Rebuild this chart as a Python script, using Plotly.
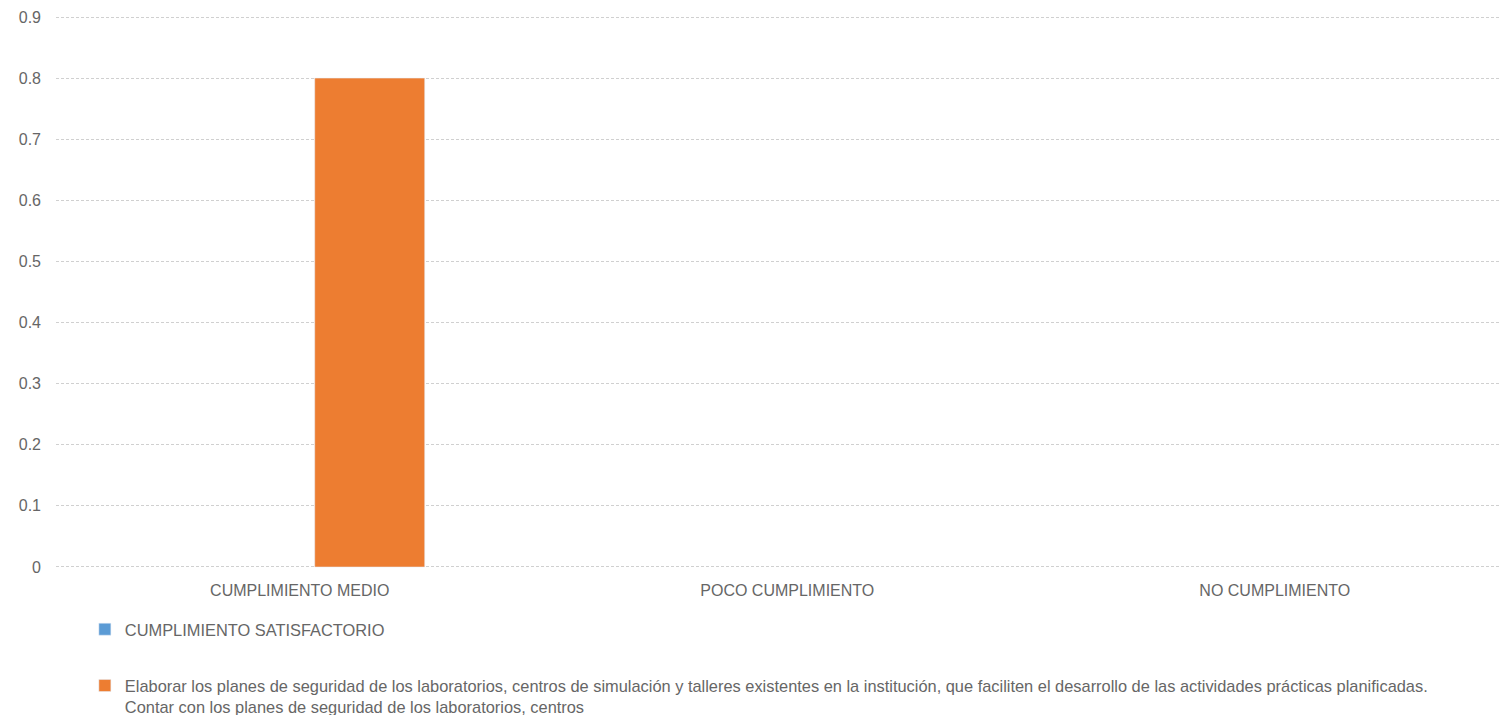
import plotly.graph_objects as go

categories = ["CUMPLIMIENTO MEDIO", "POCO CUMPLIMIENTO", "NO CUMPLIMIENTO"]
series1_name = "CUMPLIMIENTO SATISFACTORIO"
series1_values = [None, None, None]
series2_name = ("Elaborar los planes de seguridad de los laboratorios, centros de simulación y talleres existentes "
                "en la institución, que faciliten el desarrollo de las actividades prácticas planificadas.<br>"
                "Contar con los planes de seguridad de los laboratorios, centros")
series2_values = [0.8, None, None]
y_ticks = [0, 0.1, 0.2, 0.3, 0.4, 0.5, 0.6, 0.7, 0.8, 0.9]
y_tick_labels = ["0", "0.1", "0.2", "0.3", "0.4", "0.5", "0.6", "0.7", "0.8", "0.9"]

FONT = "Liberation Sans"
GRAY = "#666666"
FS = 16

fig = go.Figure()
fig.add_trace(go.Bar(x=categories, y=series1_values, name=series1_name,
                     marker_color="#5B9BD5", legendgroup="a"))
fig.add_trace(go.Bar(x=categories, y=series2_values, name=series2_name,
                     marker_color="#ED7D31", legendgroup="b"))

fig.update_layout(
    width=1499, height=715,
    margin=dict(l=56, r=0, t=15, b=146, autoexpand=False),
    paper_bgcolor="white", plot_bgcolor="white",
    barmode="group", bargap=0.426, bargroupgap=0.214,
    font=dict(family=FONT, size=FS, color=GRAY),
    showlegend=True,
    legend=dict(orientation="v", x=0.02, xanchor="left", y=0.144, yref="container", yanchor="top",
                font=dict(family=FONT, size=16.4, color=GRAY),
                tracegroupgap=32, valign="top", itemwidth=30,
                bgcolor="rgba(0,0,0,0)"),
)
fig.update_xaxes(type="category", range=[-0.5, 2.46], showgrid=False, showline=False,
                 ticks="", ticklabelstandoff=10,
                 tickfont=dict(size=FS, color=GRAY), fixedrange=True)
fig.update_yaxes(range=[-0.0033, 0.9033], tickvals=y_ticks, ticktext=y_tick_labels,
                 showgrid=True, gridcolor="#D0D0D0", griddash="3px,2px", gridwidth=1,
                 zeroline=False, showline=False, ticklabelstandoff=14,
                 tickfont=dict(size=FS, color=GRAY))

fig.write_html("out.html")
